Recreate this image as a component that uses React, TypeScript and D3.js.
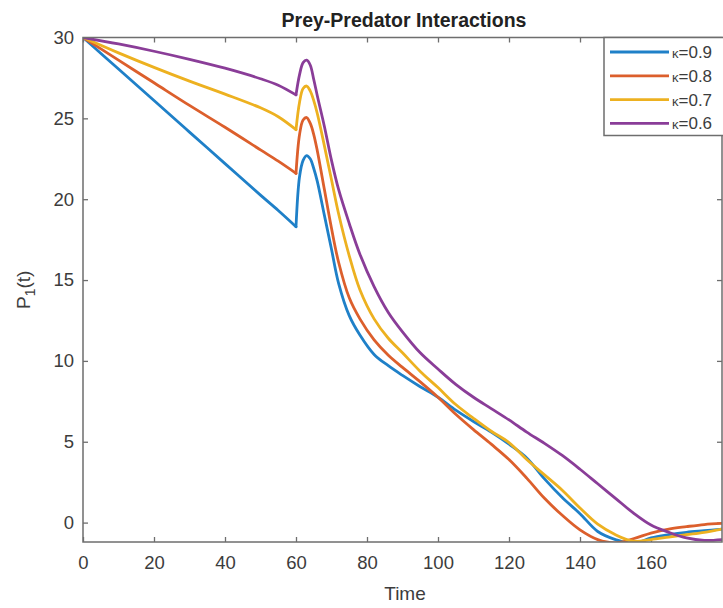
import React, { useEffect, useRef } from "react";
import * as d3 from "d3";

// time grid: before the jump at t=60 and after it
const timeBefore = [0, 10, 20, 30, 40, 50, 55, 60];
const timeAfter = [
  60, 61, 62, 63, 64, 65, 66, 68, 70, 72, 75, 78, 82, 86, 90, 95, 100, 105,
  110, 115, 120, 125, 130, 135, 140, 145, 150, 155, 160, 165, 170, 175, 180,
];

// kappa = 0.9
const k09Before = [30, 28.05, 26.1, 24.15, 22.2, 20.25, 19.3, 18.3];
const k09After = [
  18.3, 21.4, 22.4, 22.7, 22.5, 21.9, 21.1, 19.0, 16.9, 14.8, 12.8, 11.6, 10.4,
  9.7, 9.1, 8.4, 7.75, 6.95, 6.25, 5.6, 4.85, 4.0, 2.7, 1.55, 0.55, -0.55,
  -1.05, -1.3, -0.95, -0.75, -0.6, -0.5, -0.4,
];
// kappa = 0.8
const k08Before = [30, 28.6, 27.2, 25.8, 24.45, 23.05, 22.35, 21.6];
const k08After = [
  21.6, 24.0, 24.9, 25.05, 24.7, 24.0, 23.0, 20.6, 18.2, 16.1, 13.9, 12.6,
  11.3, 10.35, 9.6, 8.7, 7.75, 6.7, 5.75, 4.85, 3.9, 2.75, 1.5, 0.45, -0.45,
  -1.05, -1.25, -1.0, -0.65, -0.4, -0.25, -0.12, -0.05,
];
// kappa = 0.7
const k07Before = [30, 29.05, 28.15, 27.3, 26.5, 25.65, 25.1, 24.3];
const k07After = [
  24.3, 26.0, 26.85, 27.0, 26.7, 26.1, 25.3, 23.3, 21.2, 19.1, 16.5, 14.4,
  12.6, 11.4, 10.5, 9.35, 8.35, 7.3, 6.45, 5.65, 4.95, 3.9, 2.95, 2.0, 0.9,
  -0.1, -0.75, -1.15, -1.05, -0.9, -0.75, -0.6, -0.4,
];
// kappa = 0.6
const k06Before = [30, 29.6, 29.15, 28.65, 28.1, 27.45, 27.05, 26.45];
const k06After = [
  26.45, 27.7, 28.45, 28.6, 28.3, 27.4, 26.4, 24.5, 22.4, 20.6, 18.5, 16.6,
  14.6, 13.0, 11.8, 10.5, 9.5, 8.55, 7.75, 7.05, 6.35, 5.6, 4.9, 4.15, 3.3,
  2.4, 1.5, 0.6, -0.15, -0.6, -0.95, -1.1, -1.05,
];

const kappaLabels = ["0.9", "0.8", "0.7", "0.6"];
const colors = ["#1f80c8", "#dc5f2c", "#edb120", "#8a3d98"];
const xTicks = [0, 20, 40, 60, 80, 100, 120, 140, 160];
const yTicks = [0, 5, 10, 15, 20, 25, 30];

const W = 723;
const H = 608;
const FONT = "'Liberation Sans', Arial, Helvetica, sans-serif";

export default function App() {
  const ref = useRef<SVGSVGElement>(null);

  useEffect(() => {
    const svg = d3.select(ref.current);
    svg.selectAll("*").remove();

    const left = 83;
    const right = 722;
    const top = 37.5;
    const bottom = 542;

    const x = d3.scaleLinear().domain([0, 180]).range([left, right]);
    const y = d3.scaleLinear().domain([-1.2, 30]).range([bottom, top]);

    svg.append("rect").attr("width", W).attr("height", H).attr("fill", "#fff");

    svg
      .append("clipPath")
      .attr("id", "plotclip")
      .append("rect")
      .attr("x", left)
      .attr("y", top)
      .attr("width", right - left)
      .attr("height", bottom - top);

    // axes
    const axisColor = "#6e6e6e";
    const textColor = "#3c3c3c";

    const xAxis = svg
      .append("g")
      .attr("transform", `translate(0,${bottom})`)
      .call(
        d3
          .axisBottom(x)
          .tickValues(xTicks)
          .tickSizeInner(-5)
          .tickSizeOuter(0)
          .tickPadding(14)
      );
    const xTop = svg
      .append("g")
      .attr("transform", `translate(0,${top})`)
      .call(
        d3
          .axisTop(x)
          .tickValues(xTicks)
          .tickSizeInner(-5)
          .tickSizeOuter(0)
          .tickFormat(() => "")
      );
    const yAxis = svg
      .append("g")
      .attr("transform", `translate(${left},0)`)
      .call(
        d3
          .axisLeft(y)
          .tickValues(yTicks)
          .tickSizeInner(-5)
          .tickSizeOuter(0)
          .tickPadding(9)
      );
    const yRight = svg
      .append("g")
      .attr("transform", `translate(${right},0)`)
      .call(
        d3
          .axisRight(y)
          .tickValues(yTicks)
          .tickSizeInner(-5)
          .tickSizeOuter(0)
          .tickFormat(() => "")
      );

    [xAxis, xTop, yAxis, yRight].forEach((g) => {
      g.selectAll(".domain").remove();
      g.selectAll(".tick line").attr("stroke", axisColor).attr("stroke-width", 1.3);
      g.selectAll("text")
        .attr("fill", textColor)
        .style("font-family", FONT)
        .style("font-size", "18.5px");
    });

    // lines
    const line = d3
      .line<[number, number]>()
      .x((d) => x(d[0]))
      .y((d) => y(d[1]))
      .curve(d3.curveCatmullRom.alpha(0.5));

    const series = [
      [k09Before, k09After],
      [k08Before, k08After],
      [k07Before, k07After],
      [k06Before, k06After],
    ];

    const lines = svg.append("g").attr("clip-path", "url(#plotclip)");
    series.forEach(([before, after], i) => {
      const p1 = timeBefore.map((t, j) => [t, before[j]] as [number, number]);
      const p2 = timeAfter.map((t, j) => [t, after[j]] as [number, number]);
      [p1, p2].forEach((pts) => {
        lines
          .append("path")
          .attr("d", line(pts))
          .attr("fill", "none")
          .attr("stroke", colors[i])
          .attr("stroke-width", 2.8)
          .attr("stroke-linejoin", "round")
          .attr("stroke-linecap", "round");
      });
    });

    // box
    svg
      .append("rect")
      .attr("x", left)
      .attr("y", top)
      .attr("width", right - left)
      .attr("height", bottom - top)
      .attr("fill", "none")
      .attr("stroke", axisColor)
      .attr("stroke-width", 1.5);

    // legend
    const lg = svg.append("g");
    lg.append("rect")
      .attr("x", 604)
      .attr("y", top)
      .attr("width", 130)
      .attr("height", 98)
      .attr("fill", "#fff")
      .attr("stroke", axisColor)
      .attr("stroke-width", 1.5);
    kappaLabels.forEach((k, i) => {
      const ly = 52 + i * 23.8;
      lg.append("line")
        .attr("x1", 610)
        .attr("x2", 669)
        .attr("y1", ly)
        .attr("y2", ly)
        .attr("stroke", colors[i])
        .attr("stroke-width", 2.8);
      const t = lg
        .append("text")
        .attr("x", 672)
        .attr("y", ly + 6)
        .attr("fill", textColor)
        .style("font-family", FONT);
      t.append("tspan").style("font-size", "13px").text("κ");
      t.append("tspan").style("font-size", "17px").text("=" + k);
    });

    // title and labels
    svg
      .append("text")
      .attr("x", 404)
      .attr("y", 27)
      .attr("text-anchor", "middle")
      .attr("fill", "#222")
      .style("font-family", FONT)
      .style("font-size", "19.5px")
      .style("font-weight", "bold")
      .text("Prey-Predator Interactions");

    svg
      .append("text")
      .attr("x", 405)
      .attr("y", 600)
      .attr("text-anchor", "middle")
      .attr("fill", textColor)
      .style("font-family", FONT)
      .style("font-size", "19px")
      .text("Time");

    const yl = svg
      .append("text")
      .attr("transform", `translate(30,${(top + bottom) / 2}) rotate(-90)`)
      .attr("text-anchor", "middle")
      .attr("fill", textColor)
      .style("font-family", FONT)
      .style("font-size", "19px");
    yl.append("tspan").text("P");
    yl.append("tspan").attr("dy", 5).style("font-size", "14px").text("1");
    yl.append("tspan").attr("dy", -5).text("(t)");
  }, []);

  return (
    <svg
      ref={ref}
      width={W}
      height={H}
      style={{ position: "absolute", left: 0, top: 0 }}
    />
  );
}
